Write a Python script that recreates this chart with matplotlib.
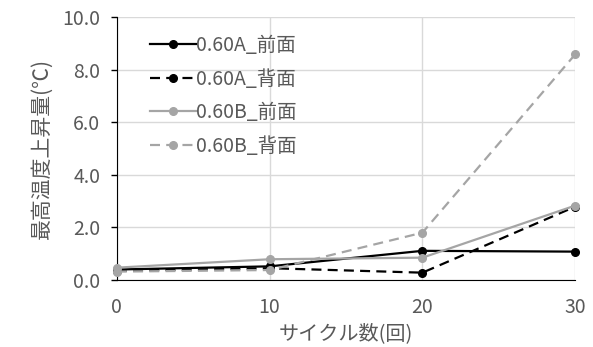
import matplotlib
matplotlib.use("Agg")
import matplotlib.pyplot as plt

plt.rcParams['font.family'] = ['Noto Sans CJK JP', 'DejaVu Sans']

# cycle counts and peak temperature rise for each specimen
cycles = [0, 10, 20, 30]
a_front = [0.40, 0.52, 1.11, 1.08]
a_back = [0.35, 0.45, 0.28, 2.79]
b_front = [0.47, 0.79, 0.85, 2.83]
b_back = [0.32, 0.38, 1.80, 8.58]
labels = ["0.60A_前面", "0.60A_背面", "0.60B_前面", "0.60B_背面"]

text_color = "#595959"
gray = "#A5A5A5"

fig = plt.figure(figsize=(5.93, 3.47), dpi=100)
ax = fig.add_axes([0.197, 0.193, 0.773, 0.758])

series = [
    (a_front, "black", "-"),
    (a_back, "black", (0, (4.5, 2.8))),
    (b_front, gray, "-"),
    (b_back, gray, (0, (4.5, 2.8))),
]
for (vals, col, ls), lab in zip(series, labels):
    ax.plot(cycles, vals, color=col, linestyle=ls, linewidth=1.6,
            marker="o", markersize=5.5, label=lab, clip_on=False, zorder=3)

ax.set_xlim(0, 30)
ax.set_ylim(0, 10)
ax.set_xticks([0, 10, 20, 30])
ax.set_yticks([0, 2, 4, 6, 8, 10])
ax.set_yticklabels([f"{v:.1f}" for v in [0, 2, 4, 6, 8, 10]])
ax.grid(True, color="#D9D9D9", linewidth=1)
ax.set_axisbelow(True)

for side in ["top", "right"]:
    ax.spines[side].set_visible(False)
ax.spines["left"].set_color("black")
ax.spines["bottom"].set_color("black")
ax.tick_params(axis="x", length=0, pad=12, labelsize=14, labelcolor=text_color)
ax.tick_params(axis="y", length=4, width=1, color="black", pad=8,
               labelsize=14, labelcolor=text_color)

ax.set_xlabel("サイクル数(回)", fontsize=14.5, color=text_color, labelpad=4)
ax.set_ylabel("最高温度上昇量(℃)", fontsize=15, color=text_color, labelpad=7)

leg = ax.legend(loc="upper left", frameon=False, fontsize=14,
                handlelength=2.35, handletextpad=0.0, labelspacing=0.64,
                borderaxespad=0.0, bbox_to_anchor=(0.055, 0.96))
for t in leg.get_texts():
    t.set_color(text_color)

fig.savefig("out.png", dpi=100)
